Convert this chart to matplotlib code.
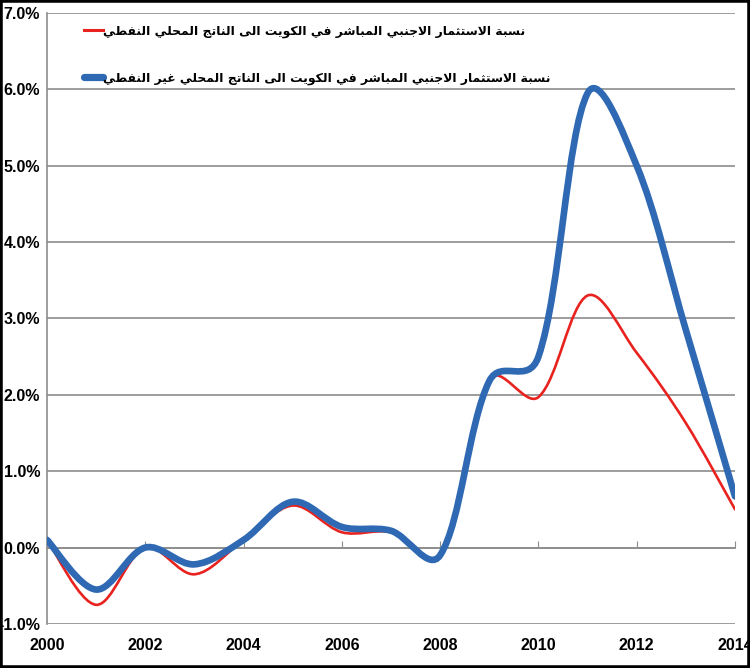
import matplotlib
matplotlib.use("Agg")
import matplotlib.pyplot as plt
from matplotlib.path import Path
from matplotlib.patches import PathPatch, Rectangle
import numpy as np

years = [2000, 2001, 2002, 2003, 2004, 2005, 2006, 2007,
         2008, 2009, 2010, 2011, 2012, 2013, 2014]
oil_gdp = [0.10, -0.75, 0.00, -0.35, 0.10, 0.55, 0.20, 0.20,
           -0.10, 2.20, 1.97, 3.30, 2.55, 1.63, 0.50]
nonoil_gdp = [0.10, -0.55, 0.00, -0.22, 0.10, 0.60, 0.27, 0.22,
              -0.10, 2.18, 2.50, 5.95, 5.00, 2.85, 0.67]
label_oil = "نسبة الاستثمار الاجنبي المباشر في الكويت الى الناتج المحلي النفطي"
label_nonoil = "نسبة الاستثمار الاجنبي المباشر في الكويت الى الناتج المحلي غير النفطي"
x_ticks = [2000, 2002, 2004, 2006, 2008, 2010, 2012, 2014]
y_ticks = [-1, 0, 1, 2, 3, 4, 5, 6, 7]

# arabic shaping by hand (matplotlib has no bidi / shaping)
# letter: (isolated, final, initial, medial); None = does not join to next letter
FORMS = {
    "ا": ("\uFE8D", "\uFE8E", None, None),
    "ب": ("\uFE8F", "\uFE90", "\uFE91", "\uFE92"),
    "ة": ("\uFE93", "\uFE94", None, None),
    "ت": ("\uFE95", "\uFE96", "\uFE97", "\uFE98"),
    "ث": ("\uFE99", "\uFE9A", "\uFE9B", "\uFE9C"),
    "ج": ("\uFE9D", "\uFE9E", "\uFE9F", "\uFEA0"),
    "ح": ("\uFEA1", "\uFEA2", "\uFEA3", "\uFEA4"),
    "ر": ("\uFEAD", "\uFEAE", None, None),
    "س": ("\uFEB1", "\uFEB2", "\uFEB3", "\uFEB4"),
    "ش": ("\uFEB5", "\uFEB6", "\uFEB7", "\uFEB8"),
    "ط": ("\uFEC1", "\uFEC2", "\uFEC3", "\uFEC4"),
    "غ": ("\uFECD", "\uFECE", "\uFECF", "\uFED0"),
    "ف": ("\uFED1", "\uFED2", "\uFED3", "\uFED4"),
    "ك": ("\uFED9", "\uFEDA", "\uFEDB", "\uFEDC"),
    "ل": ("\uFEDD", "\uFEDE", "\uFEDF", "\uFEE0"),
    "م": ("\uFEE1", "\uFEE2", "\uFEE3", "\uFEE4"),
    "ن": ("\uFEE5", "\uFEE6", "\uFEE7", "\uFEE8"),
    "و": ("\uFEED", "\uFEEE", None, None),
    "ى": ("\uFEEF", "\uFEF0", None, None),
    "ي": ("\uFEF1", "\uFEF2", "\uFEF3", "\uFEF4"),
    "ﻻ": ("\uFEFB", "\uFEFC", None, None),
}


def shape_word(word):
    word = word.replace("لا", "ﻻ")
    out = []
    for i, ch in enumerate(word):
        prev_joins = i > 0 and FORMS[word[i - 1]][2] is not None
        next_exists = i < len(word) - 1
        can_join_next = FORMS[ch][2] is not None and next_exists
        if prev_joins and can_join_next:
            out.append(FORMS[ch][3])
        elif prev_joins:
            out.append(FORMS[ch][1])
        elif can_join_next:
            out.append(FORMS[ch][2])
        else:
            out.append(FORMS[ch][0])
    return "".join(reversed(out))


def shape(text):
    return " ".join(shape_word(w) for w in reversed(text.split(" ")))


def smooth_path(xs, ys, sx=49.1, sy=76.4):
    # excel-like smoothed line: bezier, handles weighted by (sqrt) segment length on screen
    pts = np.column_stack([xs, ys]).astype(float)
    scr = pts * [sx, sy]
    n = len(pts)
    d = np.sqrt(np.hypot(*np.diff(scr, axis=0).T))
    verts = [pts[0]]
    codes = [Path.MOVETO]
    for i in range(n - 1):
        a, b = max(i - 1, 0), min(i + 2, n - 1)
        da = d[i - 1] if i > 0 else d[i]
        db = d[i + 1] if i + 1 < n - 1 else d[i]
        c1 = pts[i] + (pts[i + 1] - pts[a]) * d[i] / (da + d[i]) / 3
        c2 = pts[i + 1] - (pts[b] - pts[i]) * d[i] / (d[i] + db) / 3
        verts += [c1, c2, pts[i + 1]]
        codes += [Path.CURVE4] * 3
    return Path(verts, codes)


tick_font = {"family": ["Liberation Sans", "DejaVu Sans"], "weight": "bold", "size": 11.5}

fig = plt.figure(figsize=(7.5, 6.68), dpi=100)
ax = fig.add_axes([0.0627, 0.066, 0.9173, 0.9145])

red = "#e8231f"
blue = "#2f69b3"

ax.add_patch(PathPatch(smooth_path(years, oil_gdp), fill=False, edgecolor=red,
                       linewidth=1.9, capstyle="round", zorder=3))
ax.add_patch(PathPatch(smooth_path(years, nonoil_gdp), fill=False, edgecolor=blue,
                       linewidth=4.8, capstyle="round", zorder=4))
ax.plot([], [], color=red, linewidth=2.2, label=shape(label_oil))
ax.plot([], [], color=blue, linewidth=5.2, solid_capstyle="round", label=shape(label_nonoil))

ax.set_xlim(2000, 2014)
ax.set_ylim(-1, 7)
ax.set_yticks(y_ticks)
ax.set_yticklabels(["%.1f%%" % v for v in y_ticks], fontdict=tick_font)
ax.yaxis.grid(True, color="#8c8c8c", linewidth=1.2)
ax.set_axisbelow(True)

for s in ["top", "right"]:
    ax.spines[s].set_visible(False)
ax.spines["left"].set_color("#8c8c8c")
ax.spines["left"].set_linewidth(1.2)
ax.spines["bottom"].set_position(("data", 0))
ax.spines["bottom"].set_color("#8c8c8c")
ax.spines["bottom"].set_linewidth(1.2)
ax.tick_params(axis="y", length=0, pad=5)
ax.set_xticks(x_ticks)
ax.tick_params(axis="x", direction="in", length=5, color="#8c8c8c", labelbottom=False)

sec = ax.secondary_xaxis(0)
sec.set_xticks(x_ticks)
sec.set_xticklabels([str(v) for v in x_ticks], fontdict=tick_font)
sec.tick_params(length=0, pad=10)
sec.spines["bottom"].set_visible(False)

leg = ax.legend(loc="upper left", bbox_to_anchor=(0.038, 0.999), frameon=False,
                handlelength=1.5, handletextpad=0.05, labelspacing=2.7,
                prop={"family": ["DejaVu Sans"], "weight": "bold", "size": 8.9})

fig.patches.append(Rectangle((0, 0), 1, 1, transform=fig.transFigure, fill=False,
                             edgecolor="black", linewidth=4))

fig.savefig("out.png", dpi=100)
